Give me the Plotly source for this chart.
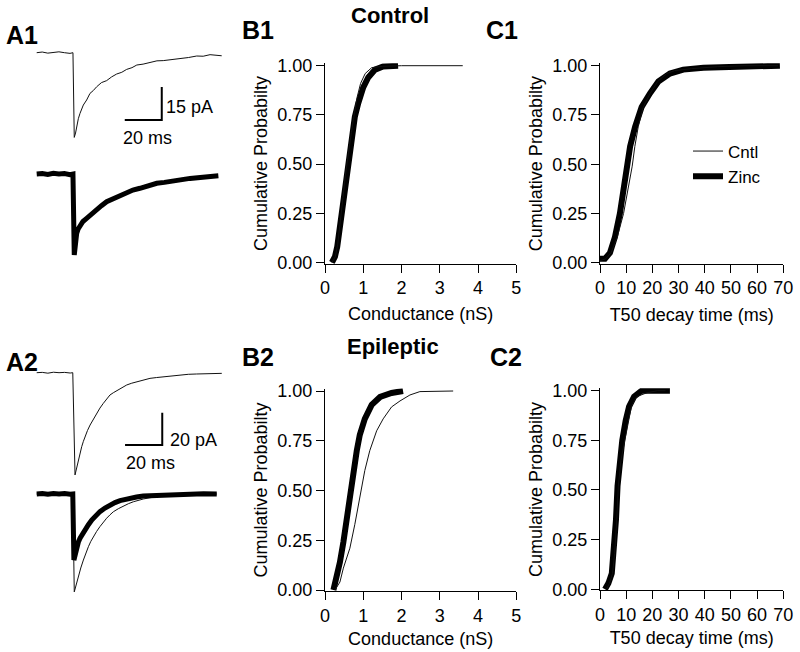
import plotly.graph_objects as go

W, H = 800, 652
FONT = "Liberation Sans, Arial, sans-serif"

# ---------------- data ----------------
# A1: representative currents (time ms, current pA)
a1_cntl_t = [0, 3, 6, 9, 12, 15, 18, 19.6, 19.9, 20.3, 21.0, 21.6, 22.5, 23.4, 24.3, 25.2, 27, 28.8, 30.6, 32.4, 35,
             37.8, 40.5, 43.2, 46, 48.6, 51.5, 54.1, 57.5, 61.2, 65, 68.4, 73, 77.5, 82, 86.5, 90, 93.7, 97, 100]
a1_cntl_i = [0, 0.3, -0.2, 0.2, 0.4, 0, -0.3, 0, -20, -38.5, -36.5, -33.6, -30.0, -27.6, -25.4, -23.8, -21.5, -18.5,
             -17.2, -15.5, -13.6, -12.7, -11.0, -9.7, -8.9, -7.6, -6.8, -5.6, -5.2, -4.5, -3.7, -3.6, -3.2, -2.6, -2.2,
             -1.5, -1.6, -0.9, -1.2, -1.4]
a1_zinc_t = [0, 3, 6, 9, 12, 15, 18, 19.6, 20.3, 20.7, 21.1, 21.6, 22.4, 23.4, 25.0, 27.0, 29.5, 32.4, 35.0, 37.8,
             40.5, 43.2, 46.0, 48.6, 52.0, 55.8, 60.0, 64.9, 69.0, 73.8, 78.0, 82.9, 87.0, 91.9, 95.0, 98.2]
a1_zinc_i = [0, 0.2, -0.2, 0.3, 0, 0.2, -0.3, 0, -36.8, -33.5, -30.0, -27.0, -25.0, -23.2, -21.6, -20.2, -18.2, -16.4,
             -14.4, -12.6, -11.6, -10.3, -9.1, -8.0, -7.3, -6.5, -5.2, -4.2, -3.8, -3.0, -2.6, -2.0, -1.7, -1.2, -1.0, -0.8]

# A2
a2_top_t = [0, 3, 6, 9, 12, 15, 18, 19.4, 20.6, 21.5, 22.4, 23.3, 24.2, 25.1, 26.0, 27.3, 28.7, 30.5, 32.3, 34.0,
            35.8, 37.6, 39.4, 41.2, 43.0, 45.7, 48.4, 51.1, 53.8, 57.3, 60.9, 64.5, 68.1, 72.5, 77.0, 81.5, 86.0,
            90.5, 94.9, 99.5]
a2_top_i = [0, 0.2, -0.3, 0.3, 0, 0.2, -0.2, 0, -63.3, -58.5, -54.1, -49.8, -45.8, -42.5, -39.6, -35.8, -32.4, -28.5,
            -25.1, -21.9, -19.0, -16.2, -13.8, -12.4, -11.1, -9.2, -7.6, -6.5, -5.6, -4.4, -3.5, -3.0, -2.5, -1.8,
            -1.4, -1.0, -0.8, -0.6, -0.4, -0.4]
a2_zinc_t = [0, 3, 6, 9, 12, 15, 18, 19.4, 20.0, 20.8, 21.5, 22.4, 23.3, 24.6, 26.0, 27.8, 29.6, 31.8, 34.0, 36.7,
             39.4, 42.1, 44.8, 47.5, 50.2, 53.7, 57.3, 62.7, 68.1, 75.3, 82.5, 89.7, 96.8]
a2_zinc_i = [0, 0.3, -0.2, 0.3, 0, 0.3, -0.2, 0, -40.9, -36.5, -32.6, -29.8, -27.4, -24.7, -22.3, -19.0, -16.1, -13.3,
             -10.9, -8.7, -6.8, -5.3, -4.1, -3.3, -2.7, -1.9, -1.2, -0.9, -0.6, -0.4, -0.2, 0.1, 0]
a2_cntl_t = [0, 10, 19.4, 20.2, 21.3, 22.4, 23.7, 25.1, 26.4, 27.8, 29.1, 30.5, 32.2, 34.0, 35.8, 37.6, 39.4, 41.2,
             43.9, 46.6, 49.3, 52.0, 54.6, 57.3, 60.9, 64.5, 68.1, 71.7, 78.8, 86, 96.8]
a2_cntl_i = [0, 0, 0, -60.6, -55.6, -51.2, -45.8, -40.9, -36.6, -32.6, -29.3, -26.4, -23.2, -20.2, -17.4, -15.0,
             -12.9, -11.0, -9.1, -7.4, -6.0, -4.8, -3.9, -3.1, -2.3, -1.7, -1.2, -0.8, -0.4, -0.2, 0]

# scale bars
scale_ms = 20
a1_scale_pa = 15
a2_scale_pa = 20

# B1: conductance CDF (control animals)
b1_zinc_g = [0.18, 0.26, 0.32, 0.39, 0.46, 0.52, 0.61, 0.70, 0.78, 0.87, 1.00, 1.13, 1.31, 1.52, 1.91]
b1_zinc_p = [0, 0.03, 0.08, 0.18, 0.32, 0.42, 0.54, 0.64, 0.74, 0.81, 0.89, 0.94, 0.98, 0.996, 1.0]
b1_cntl_g = [0.18, 0.27, 0.33, 0.40, 0.47, 0.53, 0.61, 0.69, 0.77, 0.84, 0.93, 1.05, 1.22, 1.5, 2.0, 3.6]
b1_cntl_p = [0, 0.03, 0.09, 0.2, 0.33, 0.44, 0.56, 0.66, 0.76, 0.84, 0.91, 0.96, 0.99, 0.997, 1.0, 1.0]

# C1: T50 decay CDF (control animals)
c1_zinc_t = [0, 1.9, 3.8, 5.7, 7.6, 8.9, 10.2, 11.5, 13.4, 15.9, 19.1, 22.3, 26.7, 31.8, 39.5, 48.4, 68.7]
c1_zinc_p = [0.02, 0.02, 0.05, 0.13, 0.25, 0.37, 0.49, 0.59, 0.69, 0.79, 0.86, 0.92, 0.96, 0.98, 0.99, 0.995, 1.0]
c1_cntl_t = [0, 2.2, 4.2, 6.6, 9.0, 10.7, 12.3, 13.3, 14.6, 16.5, 19.2, 22.0, 25.5, 28.5, 35, 45, 55, 68]
c1_cntl_p = [0.01, 0.02, 0.05, 0.13, 0.25, 0.37, 0.49, 0.59, 0.69, 0.79, 0.86, 0.92, 0.96, 0.975, 0.985, 0.995, 1.0, 1.0]

# B2: conductance CDF (epileptic animals)
b2_zinc_g = [0.22, 0.30, 0.39, 0.48, 0.57, 0.65, 0.74, 0.83, 0.91, 1.04, 1.22, 1.44, 1.74, 2.04]
b2_zinc_p = [0, 0.06, 0.14, 0.24, 0.36, 0.50, 0.60, 0.70, 0.78, 0.86, 0.93, 0.97, 0.99, 1.0]
b2_cntl_g = [0.26, 0.39, 0.48, 0.65, 0.78, 0.91, 1.04, 1.17, 1.35, 1.52, 1.74, 1.96, 2.22, 2.48, 3.35]
b2_cntl_p = [0, 0.04, 0.11, 0.21, 0.33, 0.46, 0.60, 0.70, 0.80, 0.86, 0.92, 0.95, 0.98, 0.997, 1.0]

# C2: T50 decay CDF (epileptic animals)
c2_zinc_t = [1.9, 3.2, 4.5, 5.3, 6.1, 6.7, 7.6, 8.5, 9.8, 11.1, 13.0, 15.9, 26.7]
c2_zinc_p = [0, 0.03, 0.08, 0.18, 0.35, 0.52, 0.65, 0.75, 0.85, 0.92, 0.97, 1.0, 1.0]
c2_cntl_t = [2.5, 3.6, 4.8, 5.6, 6.4, 7.0, 8.0, 9.4, 10.8, 12.0, 14.0, 18.0, 22.0, 25.0]
c2_cntl_p = [0, 0.03, 0.08, 0.18, 0.35, 0.52, 0.65, 0.75, 0.85, 0.92, 0.97, 0.99, 1.0, 1.0]

prob_ticks = [0, 0.25, 0.5, 0.75, 1.0]
cond_ticks = [0, 1, 2, 3, 4, 5]
t50_ticks = [0, 10, 20, 30, 40, 50, 60, 70]

# ---------------- layout helpers ----------------
def xd(p0, p1):
    return [p0 / W, p1 / W]

def yd(top, bot):
    return [1 - bot / H, 1 - top / H]

fig = go.Figure()
THIN = dict(color="#111", width=1)
THICK = dict(color="#000", width=5)
THICK_CDF = dict(color="#000", width=6)

# --- A panels (hidden axes, ms/pA units) ---
def trace_axes(n, top_px, bot_px, base_px, px_per_pa, px_per_ms):
    x0 = 36.7 - 2 * px_per_ms
    x1 = 36.7 + 104 * px_per_ms
    xr = [-2, 104]
    yr = [-(bot_px - base_px) / px_per_pa, (base_px - top_px) / px_per_pa]
    ax = dict(visible=False, fixedrange=True)
    fig.layout["xaxis%d" % n] = dict(domain=xd(x0, x1), range=xr, anchor="y%d" % n, **ax)
    fig.layout["yaxis%d" % n] = dict(domain=yd(top_px, bot_px), range=yr, anchor="x%d" % n, **ax)

trace_axes(1, 40, 148, 52.7, 2.2, 1.85)      # A1 top (control)
trace_axes(2, 158, 268, 174, 2.2, 1.85)      # A1 bottom (zinc)
trace_axes(3, 360, 482, 372.7, 1.615, 1.86)  # A2 top
trace_axes(4, 482, 600, 494, 1.615, 1.86)    # A2 bottom

fig.add_trace(go.Scatter(x=a1_cntl_t, y=a1_cntl_i, mode="lines", line=THIN, xaxis="x1", yaxis="y1", showlegend=False))
fig.add_trace(go.Scatter(x=a1_zinc_t, y=a1_zinc_i, mode="lines", line=THICK, xaxis="x2", yaxis="y2", showlegend=False))
fig.add_trace(go.Scatter(x=a2_top_t, y=a2_top_i, mode="lines", line=THIN, xaxis="x3", yaxis="y3", showlegend=False))
fig.add_trace(go.Scatter(x=a2_cntl_t, y=a2_cntl_i, mode="lines", line=THIN, xaxis="x4", yaxis="y4", showlegend=False))
fig.add_trace(go.Scatter(x=a2_zinc_t, y=a2_zinc_i, mode="lines", line=THICK, xaxis="x4", yaxis="y4", showlegend=False))

# scale bars (corner position in each panel's units)
a1_corner = (67.6, -30.6)
a2_corner = (67.5, -44.8)
for (cx, cy), spa, ax in [(a1_corner, a1_scale_pa, "1"), (a2_corner, a2_scale_pa, "3")]:
    fig.add_trace(go.Scatter(x=[cx - scale_ms, cx, cx], y=[cy, cy, cy + spa], mode="lines",
                             line=dict(color="#000", width=2), xaxis="x" + ax, yaxis="y" + ax, showlegend=False))

# --- CDF panels ---
TICKF = dict(family=FONT, size=18, color="#000")
TITLEF = dict(family=FONT, size=18, color="#000")
axis_style = dict(showline=True, linecolor="#000", linewidth=1, ticks="outside", ticklen=8, tickwidth=1,
                  tickcolor="#000", showgrid=False, zeroline=False, fixedrange=True, tickfont=TICKF)

def cdf_axes(n, xpx0, xpx1, xrange, xticks, xtitle, ypx0, ypx1, xstand):
    ppu = ypx0 - ypx1
    lo, hi = -0.006, 1.012
    bot = ypx0 - lo * ppu
    top = ypx1 - (hi - 1) * ppu
    fig.layout["xaxis%d" % n] = dict(domain=xd(xpx0, xpx1), range=xrange, tickvals=xticks, anchor="y%d" % n,
                                     title=dict(text=xtitle, font=TITLEF, standoff=xstand), **axis_style)
    fig.layout["yaxis%d" % n] = dict(domain=yd(top, bot), range=[lo, hi], tickvals=prob_ticks, tickformat=".2f",
                                     anchor="x%d" % n,
                                     title=dict(text="Cumulative Probabilty", font=TITLEF, standoff=5), **axis_style)

cdf_axes(5, 325, 516.3, [0, 5], cond_ticks, "Conductance (nS)", 262.5, 65.7, 10)
cdf_axes(6, 600, 783.3, [0, 70], t50_ticks, "T50 decay time (ms)", 262.7, 65.7, 10)
cdf_axes(7, 325, 516.3, [0, 5], cond_ticks, "Conductance (nS)", 590, 391, 7)
cdf_axes(8, 600, 783.3, [0, 70], t50_ticks, "T50 decay time (ms)", 589.3, 390.7, 7)

def add_pair(n, cx, cy, zx, zy, legend=False):
    fig.add_trace(go.Scatter(x=zx, y=zy, mode="lines", line=THICK_CDF, name="Zinc", xaxis="x%d" % n,
                             yaxis="y%d" % n, showlegend=legend, legendrank=2))
    fig.add_trace(go.Scatter(x=cx, y=cy, mode="lines", line=THIN, name="Cntl", xaxis="x%d" % n, yaxis="y%d" % n,
                             showlegend=legend, legendrank=1))

add_pair(5, b1_cntl_g, b1_cntl_p, b1_zinc_g, b1_zinc_p)
add_pair(6, c1_cntl_t, c1_cntl_p, c1_zinc_t, c1_zinc_p, legend=True)
add_pair(7, b2_cntl_g, b2_cntl_p, b2_zinc_g, b2_zinc_p)
add_pair(8, c2_cntl_t, c2_cntl_p, c2_zinc_t, c2_zinc_p)

# --- text ---
def ann(text, px, py, size=18, bold=False, xanchor="left"):
    fig.add_annotation(text=("<b>%s</b>" % text) if bold else text, x=px / W, y=1 - py / H, xref="paper",
                       yref="paper", xanchor=xanchor, yanchor="middle", showarrow=False,
                       font=dict(family=FONT, size=size, color="#000"))

ann("A1", 4, 35, 25, True)
ann("B1", 240, 30, 25, True)
ann("C1", 484, 30, 25, True)
ann("A2", 4, 362, 25, True)
ann("B2", 240, 357, 25, True)
ann("C2", 488, 357, 25, True)
ann("Control", 390, 16, 22, True, "center")
ann("Epileptic", 393, 346, 22, True, "center")
ann("15 pA", 164, 107)
ann("20 ms", 121, 138)
ann("20 pA", 168, 440)
ann("20 ms", 124, 463)

fig.update_layout(
    width=W, height=H, margin=dict(l=0, r=0, t=0, b=0, autoexpand=False),
    paper_bgcolor="white", plot_bgcolor="white",
    font=dict(family=FONT, size=18, color="#000"),
    legend=dict(x=688 / W, y=1 - 164 / H, xanchor="left", yanchor="middle", bgcolor="rgba(0,0,0,0)",
                font=dict(family=FONT, size=17, color="#000"), tracegroupgap=0, itemwidth=30,
                traceorder="normal"),
)

fig.write_html("out.html", config={"displayModeBar": False},
               post_script="document.body.style.margin='0';document.body.style.padding='0';"
                           "document.documentElement.style.overflow='hidden';document.body.style.overflow='hidden';")
